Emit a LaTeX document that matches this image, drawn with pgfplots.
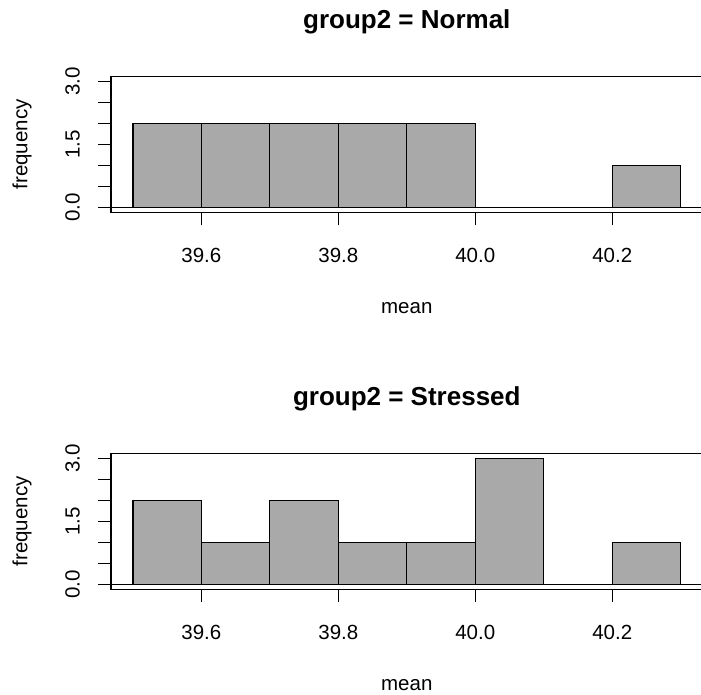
\documentclass[border=0pt]{standalone}
\usepackage{fontspec}
\setmainfont{Liberation Sans}
\usepackage{pgfplots}
\pgfplotsset{compat=1.18}
\definecolor{barfill}{HTML}{A9A9A9}

\pgfplotsset{
  rpanel/.style={
    scale only axis, width=591.6pt, height=135.6pt,
    xmin=39.468, xmax=40.332, ymin=-0.12, ymax=3.12,
    axis line style={black, line width=1.2pt},
    tick style={black, line width=1.2pt},
    tick align=outside,
    xtick pos=bottom, ytick pos=left,
    xtick={39.6,39.8,40.0,40.2},
    ytick={0,1.5,3}, minor ytick={0.5,1,2,2.5},
    major tick length=13pt, minor tick length=13pt,
    ticklabel style={font=\fontsize{20.5}{24}\selectfont},
    /pgf/number format/.cd, fixed, fixed zerofill, precision=1,
      assume math mode=true, /pgfplots/.cd,
    xticklabel style={anchor=north, inner sep=0pt},
    yticklabel style={rotate=90, anchor=south, inner sep=0pt},
    xticklabel shift=23pt, yticklabel shift=18pt,
    xlabel=mean, ylabel=frequency,
    label style={font=\fontsize{20.5}{24}\selectfont, inner sep=0pt},
    xlabel style={at={(axis description cs:0.5,-0.7448)}, anchor=base},
    ylabel style={at={(axis description cs:-0.1413,0.5)}, anchor=base},
    title style={at={(axis description cs:0.5,1.3097)}, anchor=base,
      font=\bfseries\fontsize{26}{30}\selectfont, inner sep=0pt},
  },
  rbars/.style={ybar, bar width=0.1, bar shift=0pt, fill=barfill,
    draw=black, line width=1.2pt},
}

\begin{document}
\begin{tikzpicture}[x=1pt,y=1pt]
\useasboundingbox (0,0) rectangle (701,695);
\clip (0,0) rectangle (701,695);

% top panel
\begin{axis}[rpanel, at={(111pt,482.7pt)}, anchor=south west,
  title={group2 = Normal}]
  \addplot[black, line width=1.2pt] coordinates {(39.468,0) (40.332,0)};
  \addplot[rbars] coordinates {
    (39.55,2) (39.65,2) (39.75,2) (39.85,2)
    (39.95,2) (40.05,0) (40.15,0) (40.25,1)
  };
\end{axis}

% bottom panel
\begin{axis}[rpanel, at={(111pt,105.7pt)}, anchor=south west,
  title={group2 = Stressed}]
  \addplot[black, line width=1.2pt] coordinates {(39.468,0) (40.332,0)};
  \addplot[rbars] coordinates {
    (39.55,2) (39.65,1) (39.75,2) (39.85,1)
    (39.95,1) (40.05,3) (40.15,0) (40.25,1)
  };
\end{axis}
\end{tikzpicture}
\end{document}
